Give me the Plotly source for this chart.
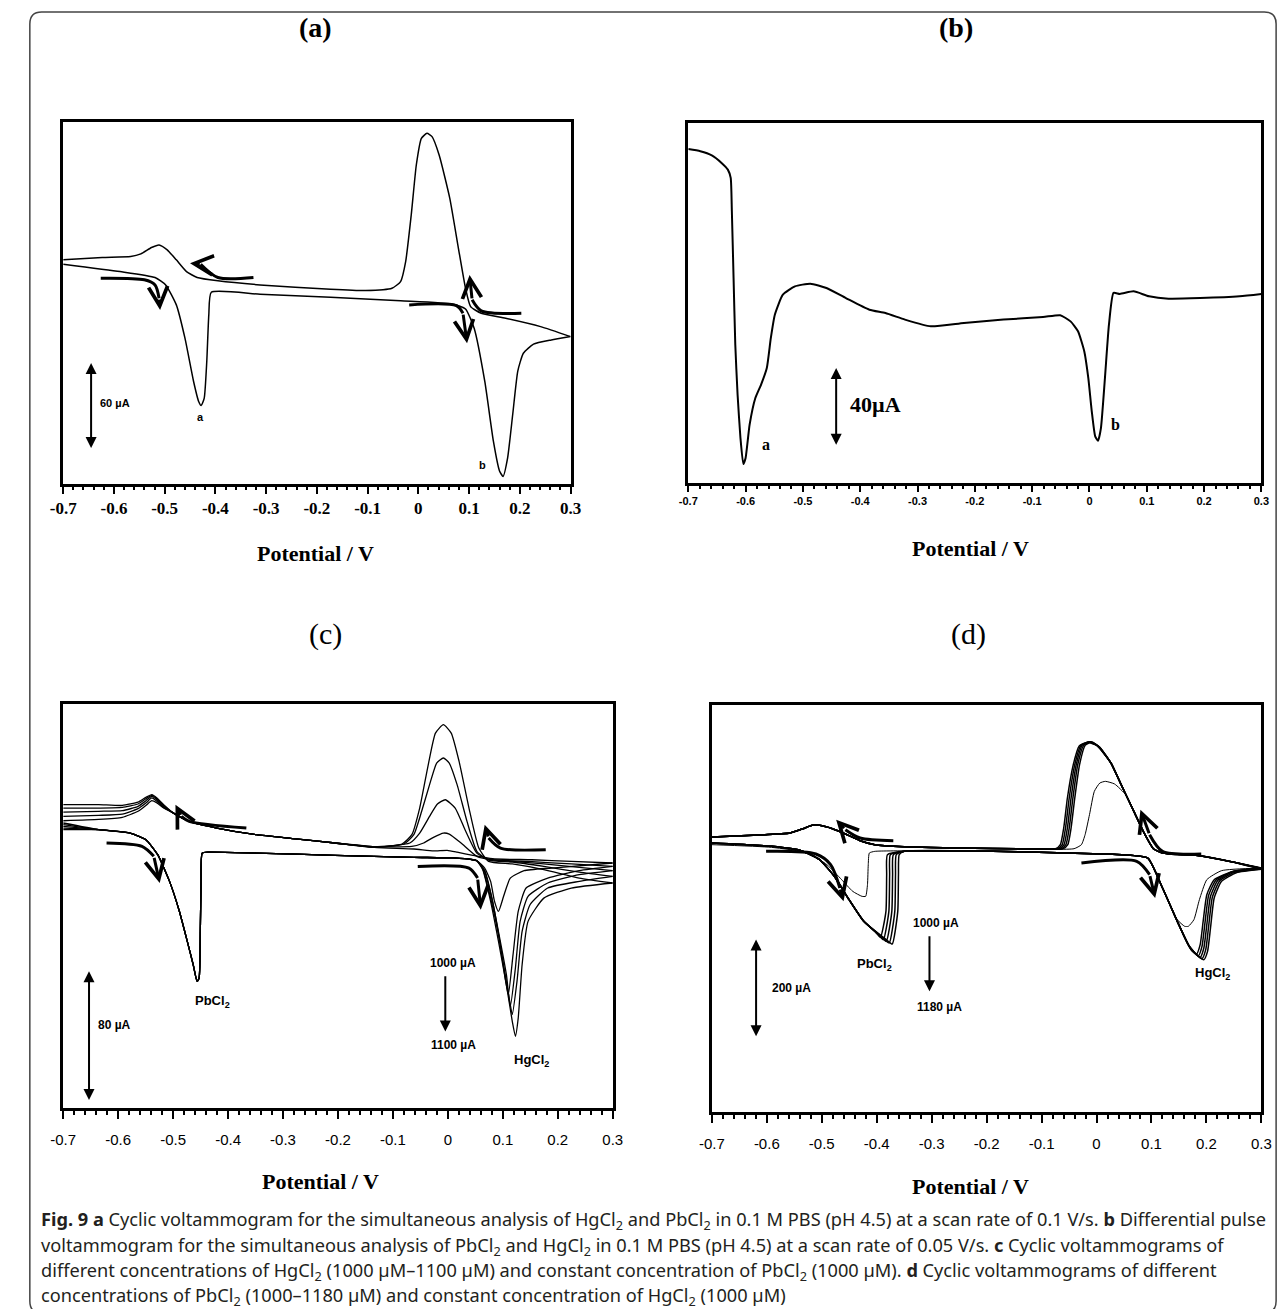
import plotly.graph_objects as go

W, H = 1285, 1309

# ---------------- shared tick labels ----------------
tick_vals = [-0.7, -0.6, -0.5, -0.4, -0.3, -0.2, -0.1, 0.0, 0.1, 0.2, 0.3]
tick_text = ["-0.7", "-0.6", "-0.5", "-0.4", "-0.3", "-0.2", "-0.1", "0", "0.1", "0.2", "0.3"]
minor_ticks = [round(-0.7 + 0.02 * i, 2) for i in range(51)]

# ---------------- panel (a): CV, current in uA ----------------
a_fwd_V = [-0.700, -0.588, -0.519, -0.498, -0.477, -0.460, -0.443, -0.433, -0.428, -0.422, -0.417, -0.413,
           -0.408, -0.312, -0.173, -0.035, 0.069, 0.093, 0.110, 0.131, 0.148, 0.160, 0.167, 0.176, 0.186,
           0.196, 0.207, 0.227, 0.262, 0.300]
a_fwd_I = [25.8, 20.7, 16.6, 11.5, -2.3, -25.3, -55.2, -69.0, -71.8, -66.7, -41.4, -9.2, 6.4, 5.1, 3.0,
           0.5, -1.8, -5.1, -18.4, -55.2, -96.6, -117.0, -120.8, -108.0, -78.0, -48.0, -35.7, -29.4,
           -26.5, -24.2]
a_rev_V = [0.300, 0.241, 0.172, 0.124, 0.103, 0.093, 0.079, 0.062, 0.041, 0.027, 0.017, 0.006, -0.004,
           -0.014, -0.025, -0.035, -0.052, -0.104, -0.173, -0.312, -0.395, -0.436, -0.457, -0.477, -0.495,
           -0.511, -0.526, -0.547, -0.567, -0.623, -0.700]
a_rev_I = [-24.2, -17.3, -11.5, -8.1, -3.5, 9.2, 36.8, 71.3, 101.2, 113.9, 116.2, 112.7, 94.3, 59.8,
           27.6, 13.8, 9.2, 7.6, 8.5, 11.5, 14.3, 16.6, 20.7, 28.8, 35.7, 39.1, 37.3, 32.9, 31.1, 30.4, 28.8]

# ---------------- panel (b): DPV ----------------
b_V = [-0.700, -0.679, -0.659, -0.642, -0.631, -0.626, -0.624, -0.621, -0.618, -0.614, -0.609, -0.604,
       -0.600, -0.593, -0.583, -0.573, -0.563, -0.556, -0.549, -0.535, -0.514, -0.487, -0.459, -0.425,
       -0.384, -0.356, -0.322, -0.277, -0.219, -0.150, -0.081, -0.051, -0.033, -0.020, -0.009, -0.002,
       0.004, 0.010, 0.015, 0.020, 0.027, 0.034, 0.042, 0.053, 0.077, 0.104, 0.138, 0.193, 0.262, 0.300]
b_I = [169.0, 167.9, 165.8, 162.0, 158.6, 154.4, 137.5, 103.8, 70.0, 44.7, 22.8, 9.6, 12.7, 29.5, 43.0,
       49.8, 58.2, 73.4, 85.2, 95.3, 99.5, 100.9, 98.7, 93.6, 87.7, 86.0, 82.7, 79.3, 81.0, 82.7, 84.0,
       84.9, 81.8, 76.8, 66.6, 53.1, 36.3, 23.6, 21.4, 27.8, 53.1, 80.1, 96.2, 95.7, 97.0, 94.5, 93.3,
       93.6, 94.5, 95.7]

# ---------------- panel (c): CVs, varying HgCl2 ----------------
c_fwd_common_V = [-0.6355, -0.5781, -0.5495, -0.5280, -0.5065, -0.4885, -0.4742, -0.4634, -0.4563,
                  -0.4527, -0.4505, -0.4491, -0.4470, -0.4348, -0.3487, -0.2054, -0.0620, 0.0097, 0.0455,
                  0.0527]
c_fwd_common_I = [19.5, 17.4, 13.3, 4.1, -12.3, -30.8, -49.2, -63.6, -73.8, -71.8, -43.0, -12.3, 5.1,
                  5.7, 5.1, 3.7, 2.5, 2.1, 1.0, 0.4]
c_fwd_start_I = [23.6, 22.6, 21.5, 20.5, 19.5]
c_fwd_hg_V = [
    [0.0670, 0.0778, 0.0849, 0.0921, 0.1014, 0.1136, 0.1387, 0.1889, 0.3],
    [0.0670, 0.0814, 0.0943, 0.1043, 0.1100, 0.1186, 0.1280, 0.1423, 0.1817, 0.2391, 0.3],
    [0.0656, 0.0799, 0.0943, 0.1065, 0.1136, 0.1229, 0.1315, 0.1459, 0.1817, 0.2391, 0.3],
    [0.0634, 0.0778, 0.0921, 0.1043, 0.1136, 0.1172, 0.1258, 0.1351, 0.1495, 0.1817, 0.2391, 0.3],
    [0.0634, 0.0778, 0.0921, 0.1065, 0.1172, 0.1229, 0.1280, 0.1351, 0.1459, 0.1746, 0.2247, 0.3],
]
c_fwd_hg_I = [
    [-4.1, -12.3, -24.6, -30.8, -21.5, -10.3, -5.7, -4.1, -1.0],
    [-5.7, -24.6, -49.2, -71.8, -82.0, -57.4, -30.8, -16.4, -10.3, -5.7, -3.1],
    [-5.1, -22.6, -47.2, -69.7, -89.2, -65.6, -36.9, -21.5, -13.3, -8.2, -5.7],
    [-4.5, -22.6, -45.1, -69.7, -88.2, -94.3, -73.8, -43.1, -26.7, -16.4, -12.3, -9.2],
    [-5.1, -24.6, -49.2, -75.9, -98.4, -107.6, -96.4, -63.6, -36.9, -22.6, -16.4, -13.3],
]
c_rev_hg_V = [
    [0.3, 0.2247, 0.1530, 0.0814, 0.0455, 0.0168, -0.0011, -0.0262, -0.0620, -0.1337],
    [0.3, 0.2247, 0.1530, 0.0814, 0.0527, 0.0240, 0.0025, -0.0082, -0.0262, -0.0441, -0.0656, -0.1337],
    [0.3, 0.2391, 0.1746, 0.1172, 0.0742, 0.0527, 0.0312, 0.0133, -0.0047, -0.0190, -0.0333, -0.0513,
     -0.0692, -0.1337],
    [0.3, 0.2391, 0.1746, 0.1172, 0.0742, 0.0527, 0.0348, 0.0168, 0.0025, -0.0082, -0.0204, -0.0333,
     -0.0477, -0.0620, -0.0799, -0.1337],
    [0.3, 0.2391, 0.1746, 0.1172, 0.0742, 0.0563, 0.0384, 0.0204, 0.0061, -0.0082, -0.0226, -0.0369,
     -0.0513, -0.0656, -0.0835, -0.1337],
]
c_rev_hg_I = [
    [-1.0, 0.0, 1.0, 1.6, 3.7, 5.7, 6.8, 6.4, 7.6, 8.6],
    [-3.1, -1.6, -0.2, 1.0, 3.1, 11.3, 16.8, 17.4, 14.8, 11.3, 9.2, 9.0],
    [-5.7, -3.7, -1.6, 0.0, 1.2, 5.1, 19.5, 32.8, 37.9, 35.3, 27.7, 17.4, 11.3, 9.0],
    [-9.2, -6.6, -3.1, -0.4, 0.8, 6.2, 24.6, 47.2, 60.5, 63.6, 60.5, 47.2, 30.8, 16.4, 10.7, 8.8],
    [-13.3, -10.3, -5.1, -1.6, 0.0, 8.2, 32.8, 61.5, 78.9, 84.1, 78.9, 57.4, 32.8, 16.4, 10.7, 8.6],
]
c_rev_common_V = [-0.2054, -0.2771, -0.3487, -0.4204, -0.4706, -0.4993]
c_rev_common_I = [11.3, 13.9, 16.4, 20.5, 24.6, 29.7]
c_rev_left_V = [-0.5172, -0.5294, -0.5387, -0.5495, -0.5638, -0.5925, -0.6355, -0.7]
c_rev_left_I = [
    [34.9, 39.0, 41.0, 39.4, 36.5, 34.4, 34.9, 34.9],
    [34.4, 38.5, 40.6, 38.5, 35.3, 33.2, 32.8, 32.8],
    [33.8, 37.9, 40.0, 37.3, 33.8, 31.2, 30.8, 30.3],
    [33.2, 36.9, 39.0, 35.9, 32.4, 29.1, 28.3, 27.7],
    [32.8, 35.9, 37.3, 34.4, 30.8, 27.1, 25.8, 25.0],
]

# ---------------- panel (d): CVs, varying PbCl2 ----------------
d_fwd_left_V = [-0.700, -0.5913, -0.5376, -0.5040, -0.4772, -0.4503, -0.4235]
d_fwd_left_I = [13.6, 6.8, -2.0, -20.3, -54.2, -101.7, -145.8]
d_pb_V = [
    [-0.4034, -0.3933, -0.3832, -0.3819, -0.3805],
    [-0.3980, -0.3879, -0.3779, -0.3765, -0.3752],
    [-0.3926, -0.3826, -0.3725, -0.3711, -0.3698],
    [-0.3872, -0.3772, -0.3671, -0.3658, -0.3644],
    [-0.3819, -0.3718, -0.3617, -0.3604, -0.3591],
]
d_pb_I = [
    [-166.1, -178.3, -125.4, -50.9, -10.2],
    [-171.5, -183.1, -125.4, -50.9, -10.2],
    [-176.3, -186.5, -125.4, -50.9, -10.2],
    [-181.0, -189.8, -125.4, -50.9, -10.2],
    [-183.7, -191.9, -125.4, -50.9, -10.2],
]
d_fwd_mid_V = [-0.3497, -0.1886, -0.0544, 0.0463, 0.0933, 0.1201, 0.1470]
d_fwd_mid_I = [-3.4, -3.4, -6.8, -10.2, -17.0, -78.0, -145.8]
d_hg_V = [
    [0.1671, 0.1819, 0.1886, 0.1940, 0.2007, 0.2141, 0.2477, 0.3],
    [0.1685, 0.1852, 0.1919, 0.1973, 0.2040, 0.2175, 0.2477, 0.3],
    [0.1698, 0.1886, 0.1953, 0.2007, 0.2074, 0.2208, 0.2477, 0.3],
    [0.1711, 0.1919, 0.1987, 0.2040, 0.2107, 0.2242, 0.2510, 0.3],
    [0.1725, 0.1953, 0.2020, 0.2074, 0.2141, 0.2275, 0.2544, 0.3],
]
d_hg_I = [
    [-193.2, -212.2, -193.2, -145.8, -91.5, -61.0, -44.1, -37.3],
    [-196.0, -215.6, -196.6, -149.2, -92.9, -61.7, -44.7, -38.0],
    [-198.7, -219.0, -200.0, -152.6, -94.9, -62.4, -45.4, -38.6],
    [-201.4, -221.7, -203.4, -155.9, -97.0, -63.1, -46.1, -39.3],
    [-204.1, -223.7, -206.8, -159.3, -98.3, -64.4, -46.8, -40.0],
]
d_rev_right_V = [0.2477, 0.1805, 0.1201, 0.1034, 0.0866, 0.0664, 0.0463, 0.0262]
d_rev_right_I = [-25.1, -11.5, -6.8, 2.0, 33.9, 81.4, 128.8, 176.3]
d_anod_V = [
    [0.0060, -0.0087, -0.0208, -0.0309, -0.0396, -0.0463, -0.0523, -0.0611],
    [0.0047, -0.0107, -0.0235, -0.0342, -0.0430, -0.0497, -0.0557, -0.0644],
    [0.0034, -0.0128, -0.0262, -0.0369, -0.0463, -0.0530, -0.0591, -0.0678],
    [0.0020, -0.0148, -0.0289, -0.0396, -0.0497, -0.0564, -0.0624, -0.0711],
    [0.0007, -0.0168, -0.0315, -0.0423, -0.0530, -0.0597, -0.0658, -0.0745],
]
d_anod_I = [
    [208.1, 219.0, 212.2, 172.9, 105.1, 44.1, 10.2, 2.0],
    [209.5, 219.7, 212.2, 172.9, 105.1, 44.1, 10.2, 2.0],
    [210.2, 219.7, 212.2, 172.9, 105.1, 44.1, 10.2, 2.0],
    [210.9, 219.0, 211.5, 172.9, 105.1, 44.1, 10.2, 2.0],
    [211.5, 218.3, 210.9, 172.9, 105.1, 44.1, 10.2, 2.0],
]
d_rev_left_V = [-0.1215, -0.2557, -0.3497, -0.4034, -0.4302, -0.4570, -0.4805, -0.5040, -0.5174,
                -0.5342, -0.5577, -0.6248, -0.700]
d_rev_left_I = [1.4, 3.4, 6.1, 10.2, 18.3, 31.9, 42.7, 49.5, 49.5, 42.7, 33.9, 29.2, 25.8]
# thin (lowest concentration) curve
d0_fwd_V = [-0.700, -0.5913, -0.5242, -0.4906, -0.4638, -0.4436, -0.4268, -0.4201, -0.4168, -0.4154,
            -0.4134, -0.4034, -0.1886, -0.0544, 0.0463, 0.0933, 0.1201, 0.1470, 0.1604, 0.1671, 0.1772,
            0.1872, 0.2007, 0.2275, 0.3]
d0_fwd_I = [10.2, 4.7, -6.8, -30.5, -61.0, -84.8, -94.9, -94.9, -71.2, -30.5, -6.8, -3.4, -3.4, -6.8,
            -10.2, -17.0, -78.0, -142.4, -155.9, -155.9, -142.4, -101.7, -61.0, -42.7, -37.3]
d0_rev_V = [0.3, 0.2477, 0.1805, 0.1201, 0.1034, 0.0866, 0.0664, 0.0530, 0.0329, 0.0161, 0.0060,
            -0.0040, -0.0128, -0.0208, -0.0275, -0.0409]
d0_rev_I = [-37.3, -25.1, -11.5, -6.8, 2.0, 33.9, 81.4, 111.9, 133.6, 139.0, 135.6, 118.7, 71.2, 30.5,
            10.2, 2.0]

# ---------------- scan-direction arrows (V, uA) ----------------
arrows_a = [
    ([-0.626, -0.540, -0.519, -0.511, -0.509], [16.1, 15.0, 11.5, 2.3, -5.75]),
    ([-0.325, -0.395, -0.429, -0.450], [16.6, 16.6, 25.8, 26.5]),
    ([-0.018, 0.075, 0.088, 0.096], [-2.3, -2.8, -8.0, -28.8]),
    ([0.203, 0.124, 0.106, 0.101], [-8.1, -6.4, 1.2, 18.4]),
]
arrows_c = [
    ([-0.6211, -0.5566, -0.5351, -0.5244], [11.3, 9.2, 3.1, -13.3]),
    ([-0.3667, -0.4706, -0.4849, -0.4957], [20.5, 24.6, 27.7, 34.9]),
    ([-0.0548, 0.0384, 0.0541, 0.0599], [-3.1, -4.1, -10.3, -29.7]),
    ([0.1781, 0.0957, 0.0742, 0.0670], [7.2, 8.2, 14.4, 22.6]),
]
arrows_d = [
    ([-0.6013, -0.5107, -0.4839, -0.4671, -0.4604], [-3.4, -8.8, -30.5, -78.0, -105.1]),
    ([-0.3698, -0.4302, -0.4570, -0.4738], [18.3, 23.7, 40.7, 61.0]),
    ([-0.0275, 0.0732, 0.0966, 0.1067], [-27.1, -23.7, -50.9, -98.3]),
    ([0.1906, 0.1201, 0.0966, 0.0799], [-8.8, -3.4, 30.5, 81.4]),
]

fig = go.Figure()
ann = []


def line(xs, ys, ax, width=1.4):
    yax = ax.replace("x", "y")
    fig.add_trace(go.Scatter(x=xs, y=ys, mode="lines", xaxis=ax, yaxis=yax, hoverinfo="skip",
                             showlegend=False,
                             line=dict(color="black", width=width, shape="spline", smoothing=0.5)))


def scan_arrow(xs, ys, ax):
    yax = ax.replace("x", "y")
    fig.add_trace(go.Scatter(x=xs[:-1], y=ys[:-1], mode="lines", xaxis=ax, yaxis=yax, hoverinfo="skip",
                             showlegend=False,
                             line=dict(color="black", width=3, shape="spline", smoothing=0.8)))
    ann.append(dict(x=xs[-1], y=ys[-1], ax=xs[-2], ay=ys[-2], xref=ax, yref=yax, axref=ax, ayref=yax,
                    text="", showarrow=True, arrowhead=5, arrowsize=1.25, arrowwidth=3,
                    arrowcolor="black"))


def bar_arrow(xv, y0, y1, ax, both=True, width=2):
    yax = ax.replace("x", "y")
    ann.append(dict(x=xv, y=y1, ax=xv, ay=y0, xref=ax, yref=yax, axref=ax, ayref=yax, text="",
                    showarrow=True, arrowhead=2, arrowsize=1.1, arrowwidth=width, arrowcolor="black",
                    arrowside="end+start" if both else "end", startarrowhead=2, startarrowsize=1.1))


def label(text, xv, yv, ax, size, family="Liberation Sans", weight="bold"):
    yax = ax.replace("x", "y")
    ann.append(dict(x=xv, y=yv, xref=ax, yref=yax, text=text, showarrow=False,
                    font=dict(family=family, size=size, color="black", weight=weight)))


# ---- panel (a)
line(a_fwd_V, a_fwd_I, "x", 1.5)
line(a_rev_V, a_rev_I, "x", 1.5)
for xs, ys in arrows_a:
    scan_arrow(xs, ys, "x")
bar_arrow(-0.645, -41.4, -101.2, "x")
label("60 µA", -0.598, -70.2, "x", 11)
label("a", -0.429, -79.4, "x", 11)
label("b", 0.127, -112.7, "x", 11)

# ---- panel (b)
line(b_V, b_I, "x2", 2)
bar_arrow(-0.442, 59.0, 19.4, "x2")
label("40µA", -0.374, 39.6, "x2", 22, family="Liberation Serif")
label("a", -0.565, 19.4, "x2", 16, family="Liberation Serif")
label("b", 0.046, 29.5, "x2", 16, family="Liberation Serif")

# ---- panel (c)
for k in range(5):
    xs = [-0.700] + c_fwd_common_V + c_fwd_hg_V[k]
    ys = [c_fwd_start_I[k]] + c_fwd_common_I + c_fwd_hg_I[k]
    line(xs, ys, "x3", 1.3)
    xs = c_rev_hg_V[k] + c_rev_common_V + c_rev_left_V
    ys = c_rev_hg_I[k] + c_rev_common_I + c_rev_left_I[k]
    line(xs, ys, "x3", 1.3)
for xs, ys in arrows_c:
    scan_arrow(xs, ys, "x3")
bar_arrow(-0.653, -66.6, -146.8, "x3")
bar_arrow(-0.0047, -69.7, -104.6, "x3", both=False)
label("80 µA", -0.607, -100.5, "x3", 12)
label("PbCl<sub>2</sub>", -0.428, -86.1, "x3", 13)
label("1000 µA", 0.010, -62.5, "x3", 12)
label("1100 µA", 0.010, -112.8, "x3", 12)
label("HgCl<sub>2</sub>", 0.152, -122.2, "x3", 13)

# ---- panel (d)
for k in range(5):
    xs = d_fwd_left_V + d_pb_V[k] + d_fwd_mid_V + d_hg_V[k]
    ys = d_fwd_left_I + d_pb_I[k] + d_fwd_mid_I + d_hg_I[k]
    line(xs, ys, "x4", 1.5)
    xs = [0.3] + d_rev_right_V + d_anod_V[k] + d_rev_left_V
    ys = [d_hg_I[k][-1]] + d_rev_right_I + d_anod_I[k] + d_rev_left_I
    line(xs, ys, "x4", 1.5)
line(d0_fwd_V, d0_fwd_I, "x4", 1)
line(d0_rev_V + d_rev_left_V, d0_rev_I + d_rev_left_I, "x4", 1)
for xs, ys in arrows_d:
    scan_arrow(xs, ys, "x4")
bar_arrow(-0.6195, -179.7, -379.7, "x4")
bar_arrow(-0.304, -172.9, -288.2, "x4", both=False)
label("200 µA", -0.5544, -281.4, "x4", 12)
label("PbCl<sub>2</sub>", -0.4034, -233.9, "x4", 13)
label("1000 µA", -0.2926, -149.2, "x4", 12)
label("1180 µA", -0.286, -320.7, "x4", 12)
label("HgCl<sub>2</sub>", 0.2107, -250.9, "x4", 13)


# ---------------- layout ----------------
def xdom(a, b):
    return [a / W, b / W]


def ydom(top, bottom):
    return [1 - bottom / H, 1 - top / H]


def xaxis_cfg(dom, anchor, lw, font, ticklen, standoff):
    return dict(domain=dom, anchor=anchor, range=[-0.7, 0.3], showline=True, mirror=True,
                linewidth=lw, linecolor="black", ticks="outside", ticklen=ticklen, tickwidth=2,
                tickcolor="black", tickmode="array", tickvals=tick_vals, ticktext=tick_text,
                tickfont=font, showgrid=False, zeroline=False, fixedrange=True,
                ticklabelstandoff=standoff,
                minor=dict(tickmode="array", tickvals=minor_ticks, ticks="outside",
                           ticklen=max(3, ticklen // 2), tickwidth=1.5, tickcolor="black",
                           showgrid=False))


def yaxis_cfg(dom, anchor, rng, lw):
    return dict(domain=dom, anchor=anchor, range=rng, showline=True, mirror=True, linewidth=lw,
                linecolor="black", showticklabels=False, ticks="", showgrid=False, zeroline=False,
                fixedrange=True)


serif_b = dict(family="Liberation Serif", size=17, color="black", weight="bold")
sans_b = dict(family="Liberation Sans", size=11, color="black", weight="bold")
sans_r = dict(family="Liberation Sans", size=15, color="black")

layout = dict(
    width=W, height=H, autosize=False, margin=dict(l=0, r=0, t=0, b=0),
    paper_bgcolor="white", plot_bgcolor="white", showlegend=False,
    xaxis=xaxis_cfg(xdom(43, 560), "y", 3, serif_b, 7, 0),
    yaxis=yaxis_cfg(ydom(114, 476), "x", [-126, 124], 3),
    xaxis2=xaxis_cfg(xdom(680, 1264), "y2", 2.5, sans_b, 6, 0),
    yaxis2=yaxis_cfg(ydom(115, 475), "x2", [0, 182.2], 2.5),
    xaxis3=xaxis_cfg(xdom(43, 603), "y3", 3, sans_r, 8, 8),
    yaxis3=yaxis_cfg(ydom(696, 1100), "x3", [-151.7, 96.8], 3),
    xaxis4=xaxis_cfg(xdom(704, 1264), "y4", 2.5, sans_r, 8, 8),
    yaxis4=yaxis_cfg(ydom(697, 1104), "x4", [-533.6, 294.3], 2.5),
)
fig.update_layout(**layout)


def paper_text(text, px, py, size, family, weight="bold", xanchor="center", color="black"):
    ann.append(dict(x=px / W, y=1 - py / H, xref="paper", yref="paper", text=text, showarrow=False,
                    xanchor=xanchor, yanchor="middle",
                    font=dict(family=family, size=size, color=color, weight=weight)))


paper_text("(a)", 300, 20, 28, "Liberation Serif")
paper_text("(b)", 953, 20, 28, "Liberation Serif")
paper_text("(c)", 310, 626, 30, "Liberation Serif", weight="normal")
paper_text("(d)", 966, 626, 30, "Liberation Serif", weight="normal")
paper_text("Potential / V", 300, 545, 22, "Liberation Serif")
paper_text("Potential / V", 968, 540, 22, "Liberation Serif")
paper_text("Potential / V", 305, 1173, 22, "Liberation Serif")
paper_text("Potential / V", 968, 1178, 22, "Liberation Serif")

caption_lines = [
    "<b>Fig. 9 a</b> Cyclic voltammogram for the simultaneous analysis of HgCl<sub>2</sub> and PbCl<sub>2</sub> "
    "in 0.1 M PBS (pH 4.5) at a scan rate of 0.1 V/s. <b>b</b> Differential pulse",
    "voltammogram for the simultaneous analysis of PbCl<sub>2</sub> and HgCl<sub>2</sub> in 0.1 M PBS "
    "(pH 4.5) at a scan rate of 0.05 V/s. <b>c</b> Cyclic voltammograms of",
    "different concentrations of HgCl<sub>2</sub> (1000 µM–1100 µM) and constant concentration of "
    "PbCl<sub>2</sub> (1000 µM). <b>d</b> Cyclic voltammograms of different",
    "concentrations of PbCl<sub>2</sub> (1000–1180 µM) and constant concentration of HgCl<sub>2</sub> (1000 µM)",
]
caption_y = [1212, 1238, 1263, 1288]
for t, yy in zip(caption_lines, caption_y):
    paper_text(t, 18, yy, 18.2, "Noto Sans", weight="normal", xanchor="left", color="#231f20")

# outer rounded frame
x0, x1, y0, y1, r = 9 / W, 1279 / W, 1 - 4 / H, 1 - 1305 / H, 12
rx, ry = r / W, r / H
frame = (f"M {x0 + rx},{y0} L {x1 - rx},{y0} Q {x1},{y0} {x1},{y0 - ry} L {x1},{y1 + ry} "
         f"Q {x1},{y1} {x1 - rx},{y1} L {x0 + rx},{y1} Q {x0},{y1} {x0},{y1 + ry} "
         f"L {x0},{y0 - ry} Q {x0},{y0} {x0 + rx},{y0} Z")
fig.add_shape(type="path", path=frame, xref="paper", yref="paper",
              line=dict(color="#444", width=1.5), layer="below")

fig.update_layout(annotations=ann)
fig.write_html("out.html")
